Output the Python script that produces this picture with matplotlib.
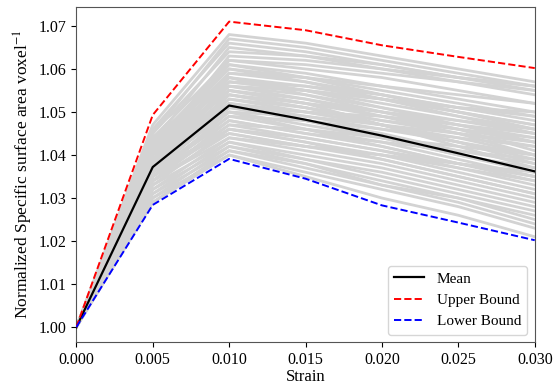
import matplotlib.pyplot as plt

plt.rcParams['font.family'] = ['Liberation Serif', 'DejaVu Serif']
plt.rcParams['mathtext.fontset'] = 'stix'

strain = [0.000, 0.005, 0.010, 0.015, 0.020, 0.025, 0.030]

mean_curve = [1.000, 1.0372, 1.0515, 1.0482, 1.0445, 1.0404, 1.0362]
upper_bound = [1.000, 1.0493, 1.0710, 1.0690, 1.0655, 1.0628, 1.0602]
lower_bound = [1.000, 1.0284, 1.0391, 1.0345, 1.0283, 1.0243, 1.0202]

# individual samples (values after strain 0, each starts at 1.0)
samples = [
    [1.047, 1.068, 1.066, 1.063, 1.060, 1.057],
    [1.046, 1.066, 1.064, 1.061, 1.058, 1.055],
    [1.045, 1.064, 1.063, 1.060, 1.057, 1.054],
    [1.044, 1.062, 1.060, 1.058, 1.055, 1.052],
    [1.043, 1.061, 1.059, 1.056, 1.053, 1.050],
    [1.042, 1.060, 1.058, 1.055, 1.052, 1.049],
    [1.042, 1.059, 1.057, 1.054, 1.051, 1.048],
    [1.041, 1.058, 1.056, 1.053, 1.050, 1.047],
    [1.041, 1.057, 1.055, 1.052, 1.049, 1.046],
    [1.040, 1.056, 1.054, 1.051, 1.048, 1.045],
    [1.040, 1.055, 1.053, 1.050, 1.047, 1.044],
    [1.039, 1.055, 1.052, 1.049, 1.046, 1.043],
    [1.039, 1.054, 1.051, 1.048, 1.045, 1.042],
    [1.038, 1.053, 1.050, 1.047, 1.044, 1.040],
    [1.038, 1.052, 1.049, 1.046, 1.043, 1.039],
    [1.037, 1.051, 1.048, 1.045, 1.041, 1.038],
    [1.037, 1.050, 1.047, 1.044, 1.040, 1.036],
    [1.036, 1.049, 1.046, 1.043, 1.039, 1.035],
    [1.036, 1.048, 1.045, 1.042, 1.038, 1.034],
    [1.035, 1.047, 1.044, 1.041, 1.037, 1.033],
    [1.035, 1.046, 1.043, 1.040, 1.036, 1.032],
    [1.034, 1.045, 1.042, 1.039, 1.035, 1.031],
    [1.034, 1.044, 1.041, 1.038, 1.034, 1.030],
    [1.033, 1.043, 1.040, 1.037, 1.033, 1.029],
    [1.032, 1.042, 1.039, 1.035, 1.031, 1.027],
    [1.031, 1.041, 1.038, 1.034, 1.030, 1.025],
    [1.030, 1.040, 1.036, 1.032, 1.028, 1.023],
    [1.029, 1.040, 1.035, 1.030, 1.026, 1.021],
    [1.039, 1.053, 1.051, 1.048, 1.046, 1.044],
    [1.036, 1.051, 1.050, 1.049, 1.047, 1.045],
    [1.041, 1.055, 1.052, 1.047, 1.042, 1.037],
    [1.044, 1.058, 1.054, 1.050, 1.046, 1.041],
    [1.035, 1.049, 1.048, 1.046, 1.044, 1.042],
    [1.038, 1.057, 1.056, 1.054, 1.051, 1.049],
    [1.040, 1.062, 1.061, 1.059, 1.057, 1.055],
    [1.034, 1.047, 1.046, 1.044, 1.042, 1.040],
    [1.043, 1.054, 1.051, 1.047, 1.043, 1.038],
    [1.037, 1.045, 1.042, 1.040, 1.037, 1.034],
    [1.046, 1.060, 1.057, 1.053, 1.049, 1.045],
    [1.039, 1.050, 1.049, 1.047, 1.045, 1.043],
    [1.045, 1.067, 1.065, 1.062, 1.059, 1.056],
    [1.043, 1.065, 1.063, 1.061, 1.058, 1.056],
    [1.041, 1.063, 1.062, 1.060, 1.058, 1.056],
    [1.042, 1.061, 1.058, 1.054, 1.050, 1.046],
    [1.040, 1.059, 1.058, 1.056, 1.054, 1.052],
    [1.039, 1.058, 1.055, 1.051, 1.047, 1.043],
    [1.038, 1.056, 1.055, 1.053, 1.051, 1.050],
    [1.037, 1.054, 1.052, 1.050, 1.048, 1.046],
    [1.036, 1.052, 1.048, 1.044, 1.040, 1.037],
    [1.035, 1.050, 1.046, 1.042, 1.038, 1.035],
    [1.034, 1.048, 1.045, 1.043, 1.041, 1.039],
    [1.033, 1.046, 1.043, 1.039, 1.035, 1.031],
    [1.032, 1.044, 1.042, 1.040, 1.038, 1.036],
    [1.031, 1.043, 1.039, 1.036, 1.032, 1.028],
    [1.030, 1.042, 1.038, 1.033, 1.029, 1.024],
    [1.029, 1.041, 1.037, 1.033, 1.030, 1.026],
    [1.044, 1.056, 1.053, 1.049, 1.045, 1.040],
    [1.040, 1.052, 1.050, 1.047, 1.043, 1.040],
    [1.042, 1.057, 1.055, 1.053, 1.050, 1.047],
    [1.036, 1.046, 1.044, 1.041, 1.038, 1.035],
]

fig, ax = plt.subplots(figsize=(5.53, 3.88), dpi=100)

for s in samples:
    ax.plot(strain, [1.0] + s, color='#d3d3d3', linewidth=2.0, zorder=1)

ax.plot(strain, mean_curve, color='black', linewidth=1.6, label='Mean', zorder=3)
ax.plot(strain, upper_bound, color='red', linestyle='--', linewidth=1.4, label='Upper Bound', zorder=3)
ax.plot(strain, lower_bound, color='blue', linestyle='--', linewidth=1.4, label='Lower Bound', zorder=3)

ax.set_xlim(0, 0.030)
ax.set_ylim(0.9965, 1.0744)
ax.set_xticks([0.000, 0.005, 0.010, 0.015, 0.020, 0.025, 0.030])
ax.set_xticklabels(['0.000', '0.005', '0.010', '0.015', '0.020', '0.025', '0.030'])
ax.set_yticks([1.00, 1.01, 1.02, 1.03, 1.04, 1.05, 1.06, 1.07])
ax.set_yticklabels(['1.00', '1.01', '1.02', '1.03', '1.04', '1.05', '1.06', '1.07'])
ax.tick_params(labelsize=11.5)

ax.set_xlabel('Strain', fontsize=12, labelpad=1)
ax.set_ylabel('Normalized Specific surface area voxel$^{-1}$', fontsize=12.5, labelpad=3)

for sp in ax.spines.values():
    sp.set_color('#555555')

ax.legend(loc='lower right', fontsize=11)

fig.subplots_adjust(left=0.138, right=0.967, top=0.982, bottom=0.118)
fig.savefig('out.png', dpi=100)
